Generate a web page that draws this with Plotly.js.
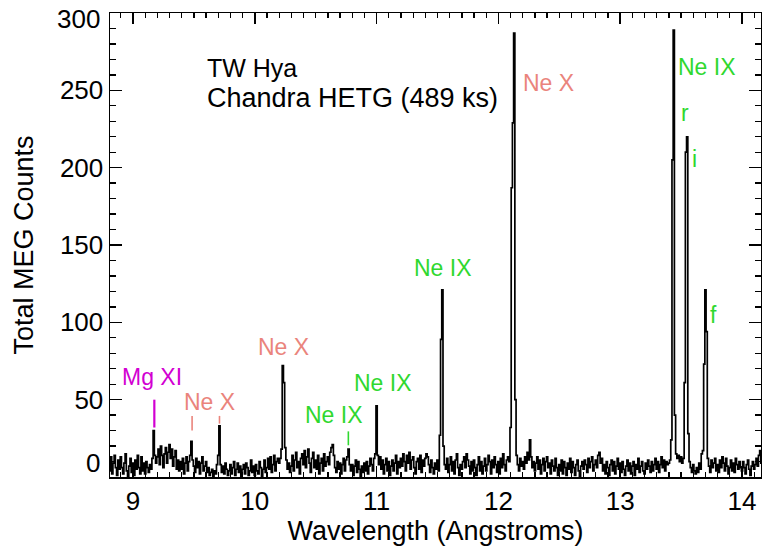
<!DOCTYPE html>
<html><head><meta charset="utf-8">
<script src="https://cdn.plot.ly/plotly-3.0.1.min.js"></script>
<style>html,body{margin:0;padding:0;background:#fff}</style>
</head><body><div id="chart" style="width:762px;height:550px"></div>
<script>
// Spectrum: MEG counts per 0.01 A bin, first bin centred at 8.80 A
const binStart = 8.80;
const binWidth = 0.01;
const counts = [
  10, 4, 13, 2, 9, 14, 6, 1, 11, 5,
  13, 6, 2, 9, 15, 4, 0, 7, 12, 3,
  9, 1, 11, 5, 14, 6, 2, 13, 4, 9,
  2, 10, 6, 3, 8, 5, 12, 30, 14, 9,
  13, 18, 8, 20, 14, 6, 15, 19, 9, 16,
  21, 12, 18, 7, 13, 17, 5, 11, 4, 10,
  5, 12, 2, 9, 13, 4, 10, 14, 23, 11,
  7, 3, 12, 6, 10, 2, 9, 13, 4, 7,
  10, 3, 6, 1, 3, 5, 0, 4, 2, 8,
  14, 33, 8, 3, 7, 2, 9, 5, 1, 4,
  8, 2, 6, 10, 1, 5, 9, 3, 7, 0,
  5, 8, 2, 9, 6, 1, 4, 11, 3, 7,
  1, 8, 4, 2, 10, 6, 0, 5, 11, 3,
  6, 12, 5, 13, 3, 8, 14, 4, 10, 12,
  9, 12, 18, 72, 61, 19, 11, 5, 9, 3,
  7, 14, 4, 11, 16, 6, 10, 2, 12, 15,
  8, 17, 6, 13, 18, 9, 3, 12, 16, 6,
  11, 5, 14, 2, 9, 12, 4, 15, 7, 10,
  13, 8, 16, 19, 21, 14, 6, 3, 10, 5,
  9, 2, 8, 12, 4, 11, 13, 18, 8, 4,
  8, 1, 7, 11, 3, 10, 5, 0, 7, 3,
  9, 4, 10, 2, 7, 12, 8, 4, 12, 15,
  46, 14, 8, 13, 5, 11, 2, 8, 12, 4,
  10, 1, 7, 11, 4, 9, 14, 2, 10, 6,
  12, 7, 15, 10, 4, 14, 9, 16, 5, 11,
  13, 6, 2, 10, 12, 5, 14, 3, 11, 7,
  12, 15, 13, 8, 3, 11, 6, 2, 9, 5,
  11, 4, 27, 89, 121, 20, 8, 5, 12, 3,
  8, 13, 4, 10, 2, 11, 15, 6, 1, 8,
  5, 10, 13, 6, 15, 11, 7, 2, 10, 4,
  11, 6, 1, 8, 13, 4, 10, 2, 7, 12,
  4, 8, 14, 10, 2, 11, 6, 13, 8, 3,
  10, 2, 12, 6, 15, 8, 4, 11, 13, 10,
  32, 187, 229, 287, 50, 14, 8, 4, 12, 7,
  10, 5, 13, 9, 16, 11, 24, 13, 6, 10,
  4, 9, 13, 5, 11, 2, 8, 12, 4, 10,
  13, 6, 9, 2, 11, 7, 4, 12, 6, 1,
  8, 4, 11, 2, 10, 6, 1, 9, 5, 12,
  3, 10, 6, 1, 8, 11, 4, 0, 7, 10,
  5, 11, 8, 3, 12, 6, 10, 13, 4, 8,
  11, 6, 14, 16, 9, 12, 4, 8, 2, 10,
  6, 1, 8, 11, 4, 10, 2, 7, 12, 5,
  9, 3, 10, 5, 1, 7, 11, 4, 9, 2,
  7, 10, 1, 8, 5, 12, 3, 7, 10, 4,
  2, 9, 5, 11, 7, 3, 10, 4, 8, 12,
  5, 10, 3, 8, 13, 6, 11, 4, 10, 8,
  9, 11, 24, 205, 289, 40, 15, 12, 14, 10,
  13, 9, 12, 61, 210, 220, 28, 10, 6, 3,
  8, 4, 2, 6, 3, 9, 5, 15, 17, 73,
  121, 94, 12, 7, 3, 11, 6, 9, 12, 4,
  8, 3, 11, 6, 13, 9, 4, 12, 7, 2,
  6, 11, 4, 9, 3, 12, 8, 5, 10, 6,
  4, 10, 6, 2, 8, 11, 5, 1, 7, 10,
  5, 8, 12, 7, 14, 17, 9
];

// Axis ticks
const xTickVals = [9, 10, 11, 12, 13, 14];
const yTickVals = [0, 50, 100, 150, 200, 250, 300];
// The end labels (0 and 300) sit slightly inside the frame in the reference
const yEdgeLabels = ["0", "300"];
const yEdgeLabelPos = [9, 296];

// Line identifications
const labelTexts = ["Mg XI", "Ne X", "Ne X", "Ne IX", "Ne IX", "Ne IX", "Ne X", "Ne IX", "r", "i", "f"];
const labelKinds = ["mg", "nex", "nex", "neix", "neix", "neix", "nex", "neix", "neix", "neix", "neix"];
const labelX = [9.156, 9.626, 10.232, 10.650, 11.053, 11.545, 12.415, 13.713, 13.536, 13.612, 13.768];
const labelY = [64.6, 48.7, 84.0, 40.1, 60.6, 135.1, 254.9, 265.2, 235.1, 205.4, 104.7];

// Small marker bars below some labels
const barX = [9.175, 9.485, 9.71, 10.768];
const barLo = [32, 30, 34.5, 20.5];
const barHi = [50, 39.5, 39.5, 29.5];
const barKinds = ["mg", "nex", "nex", "neix"];

const kindColor = { mg: "#d200d2", nex: "#ea847c", neix: "#2fd82f" };
const FONT = "Liberation Sans, Arial, Helvetica, sans-serif";

const trace = {
  type: "scatter",
  mode: "lines",
  x0: binStart,
  dx: binWidth,
  y: counts,
  line: { color: "#000", width: 1.7, shape: "hvh" },
  hoverinfo: "skip"
};

const annotations = labelTexts.map((t, i) => ({
  x: labelX[i], y: labelY[i], xref: "x", yref: "y",
  text: t, showarrow: false,
  xanchor: "center", yanchor: "middle",
  font: { family: FONT, size: 23, color: kindColor[labelKinds[i]] }
}));
annotations.push({
  x: 9.591, y: 264.5, xref: "x", yref: "y", text: "TW Hya", showarrow: false,
  xanchor: "left", yanchor: "middle", font: { family: FONT, size: 25, color: "#000" }
});
annotations.push({
  x: 9.591, y: 245.0, xref: "x", yref: "y", text: "Chandra HETG (489 ks)", showarrow: false,
  xanchor: "left", yanchor: "middle", font: { family: FONT, size: 27, color: "#000" }
});
yEdgeLabels.forEach((t, i) => annotations.push({
  x: 0, xref: "paper", y: yEdgeLabelPos[i], yref: "y", text: t, showarrow: false,
  xanchor: "right", yanchor: "middle", xshift: -9, borderpad: 0,
  font: { family: FONT, size: 26, color: "#000" }
}));

const shapes = barX.map((bx, i) => ({
  type: "line", xref: "x", yref: "y",
  x0: bx, x1: bx, y0: barLo[i], y1: barHi[i],
  line: { color: kindColor[barKinds[i]], width: i === 0 ? 2.2 : 1.6 }
}));

const axisCommon = {
  showline: true, linecolor: "#000", linewidth: 1.5, mirror: "ticks",
  ticks: "inside", tickcolor: "#000", tickwidth: 1.5,
  showgrid: false, zeroline: false,
  tickfont: { family: FONT, size: 26, color: "#000" }
};

const layout = {
  width: 762, height: 550,
  margin: { l: 110, r: 1, t: 13, b: 73 },
  paper_bgcolor: "#fff", plot_bgcolor: "#fff",
  showlegend: false,
  font: { family: FONT, color: "#000" },
  xaxis: Object.assign({}, axisCommon, {
    range: [8.811, 14.156],
    tickmode: "array", tickvals: xTickVals, ticktext: xTickVals.map(String),
    ticklen: 11,
    minor: { ticks: "inside", dtick: 0.1, tick0: 9, ticklen: 5, tickcolor: "#000", tickwidth: 1.3, showgrid: false },
    title: { text: "Wavelength (Angstroms)", font: { family: FONT, size: 27, color: "#000" }, standoff: 1 }
  }),
  yaxis: Object.assign({}, axisCommon, {
    range: [0, 300],
    tickmode: "array", tickvals: yTickVals,
    ticktext: yTickVals.map(v => (yEdgeLabels.indexOf(String(v)) >= 0 ? "" : String(v))),
    ticklen: 12,
    minor: { ticks: "inside", dtick: 10, tick0: 0, ticklen: 6, tickcolor: "#000", tickwidth: 1.3, showgrid: false },
    title: { text: "Total MEG Counts", font: { family: FONT, size: 27, color: "#000" }, standoff: 18 }
  }),
  annotations: annotations,
  shapes: shapes
};

Plotly.newPlot("chart", [trace], layout, { displayModeBar: false, staticPlot: true });
</script>
</body></html>
